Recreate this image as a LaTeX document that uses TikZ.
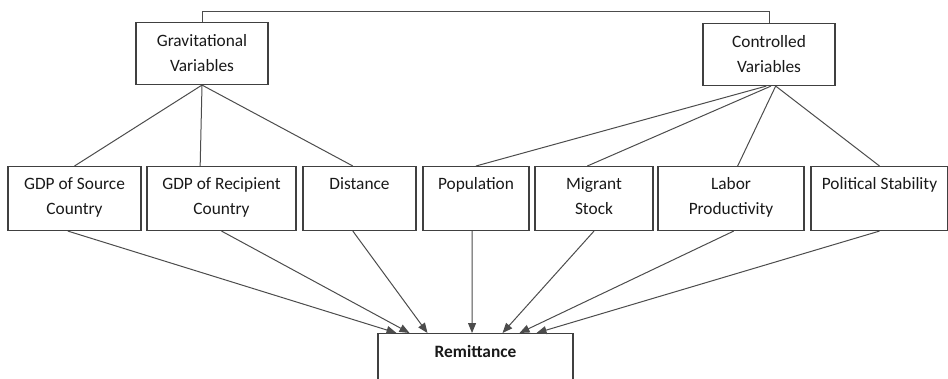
\documentclass[tikz,border=0pt]{standalone}
\usepackage{fontspec}
\setmainfont{Carlito}
\usetikzlibrary{arrows.meta}

\tikzset{
    box/.style={draw=black!75, line width=0.8pt, inner sep=0pt, anchor=north,
        align=center, text=black!90, font=\fontsize{13pt}{18.75pt}\selectfont,
        text height=17.25pt, text depth=30.75pt, minimum width=#1},
    twolines/.style={text height=36pt, text depth=12pt},
    link/.style={draw=black!70, line width=0.75pt},
    >={Triangle[length=7.5pt,width=6pt]}
}

\begin{document}
\begin{tikzpicture}[x=0.75pt,y=-0.75pt]
                \useasboundingbox (0,0) rectangle (948,378);

                \node[box=99pt, text height=36.75pt, text depth=9.75pt] at (202,22) (grav) {Gravitational\\Variables};
                \node[box=99pt, text height=36.75pt, text depth=9.75pt] at (769,23) (ctrl) {Controlled\\Variables};

                \node[box=99.75pt, twolines] at (74.5,166) (gdps) {GDP of Source\\Country};
                \node[box=111.75pt, twolines] at (221.5,166) (gdpr) {GDP of Recipient\\Country};
                \node[box=84.75pt] at (359.5,166) (dist) {Distance};
                \node[box=79.5pt] at (476,166) (pop) {Population};
                \node[box=88.5pt, twolines] at (594,166) (mig) {Migrant\\Stock};
                \node[box=109.5pt, twolines] at (731,166) (lab) {Labor\\Productivity};
                \node[box=102.75pt] at (879.5,166) (pol) {Political Stability};

                \node[box=146.25pt, font=\fontsize{13pt}{18.75pt}\selectfont\bfseries,
                    text height=18pt, text depth=32pt] at (475.5,333) (rem) {Remittance};

                \draw[link] (grav.north) -- ++(0,-10) -| (ctrl.north);

                \draw[link] (grav.south) -- (gdps.north);
                \draw[link] (grav.south) -- ([xshift=-16pt]gdpr.north);
                \draw[link] (grav.south) -- ([xshift=-5pt]dist.north);

                \draw[link] ([xshift=-2pt]ctrl.south) -- (pop.north);
                \draw[link] ([xshift=1.5pt]ctrl.south) -- ([xshift=-5pt]mig.north);
                \draw[link] ([xshift=5pt]ctrl.south) -- ([xshift=5pt]lab.north);
                \draw[link] ([xshift=5pt]ctrl.south) -- (pol.north);

                \draw[link,->] ([xshift=-5pt]gdps.south) -- ([xshift=-59.25pt]rem.north);
                \draw[link,->] (gdpr.south) -- ([xshift=-49.5pt]rem.north);
                \draw[link,->] ([xshift=-5pt]dist.south) -- ([xshift=-36pt]rem.north);
                \draw[link,->] ([xshift=-3pt]pop.south) -- ([xshift=-2.6pt]rem.north);
                \draw[link,->] (mig.south) -- ([xshift=20.25pt]rem.north);
                \draw[link,->] ([xshift=2pt]lab.south) -- ([xshift=33pt]rem.north);
                \draw[link,->] (pol.south) -- ([xshift=45.75pt]rem.north);

            \end{tikzpicture}
\end{document}
